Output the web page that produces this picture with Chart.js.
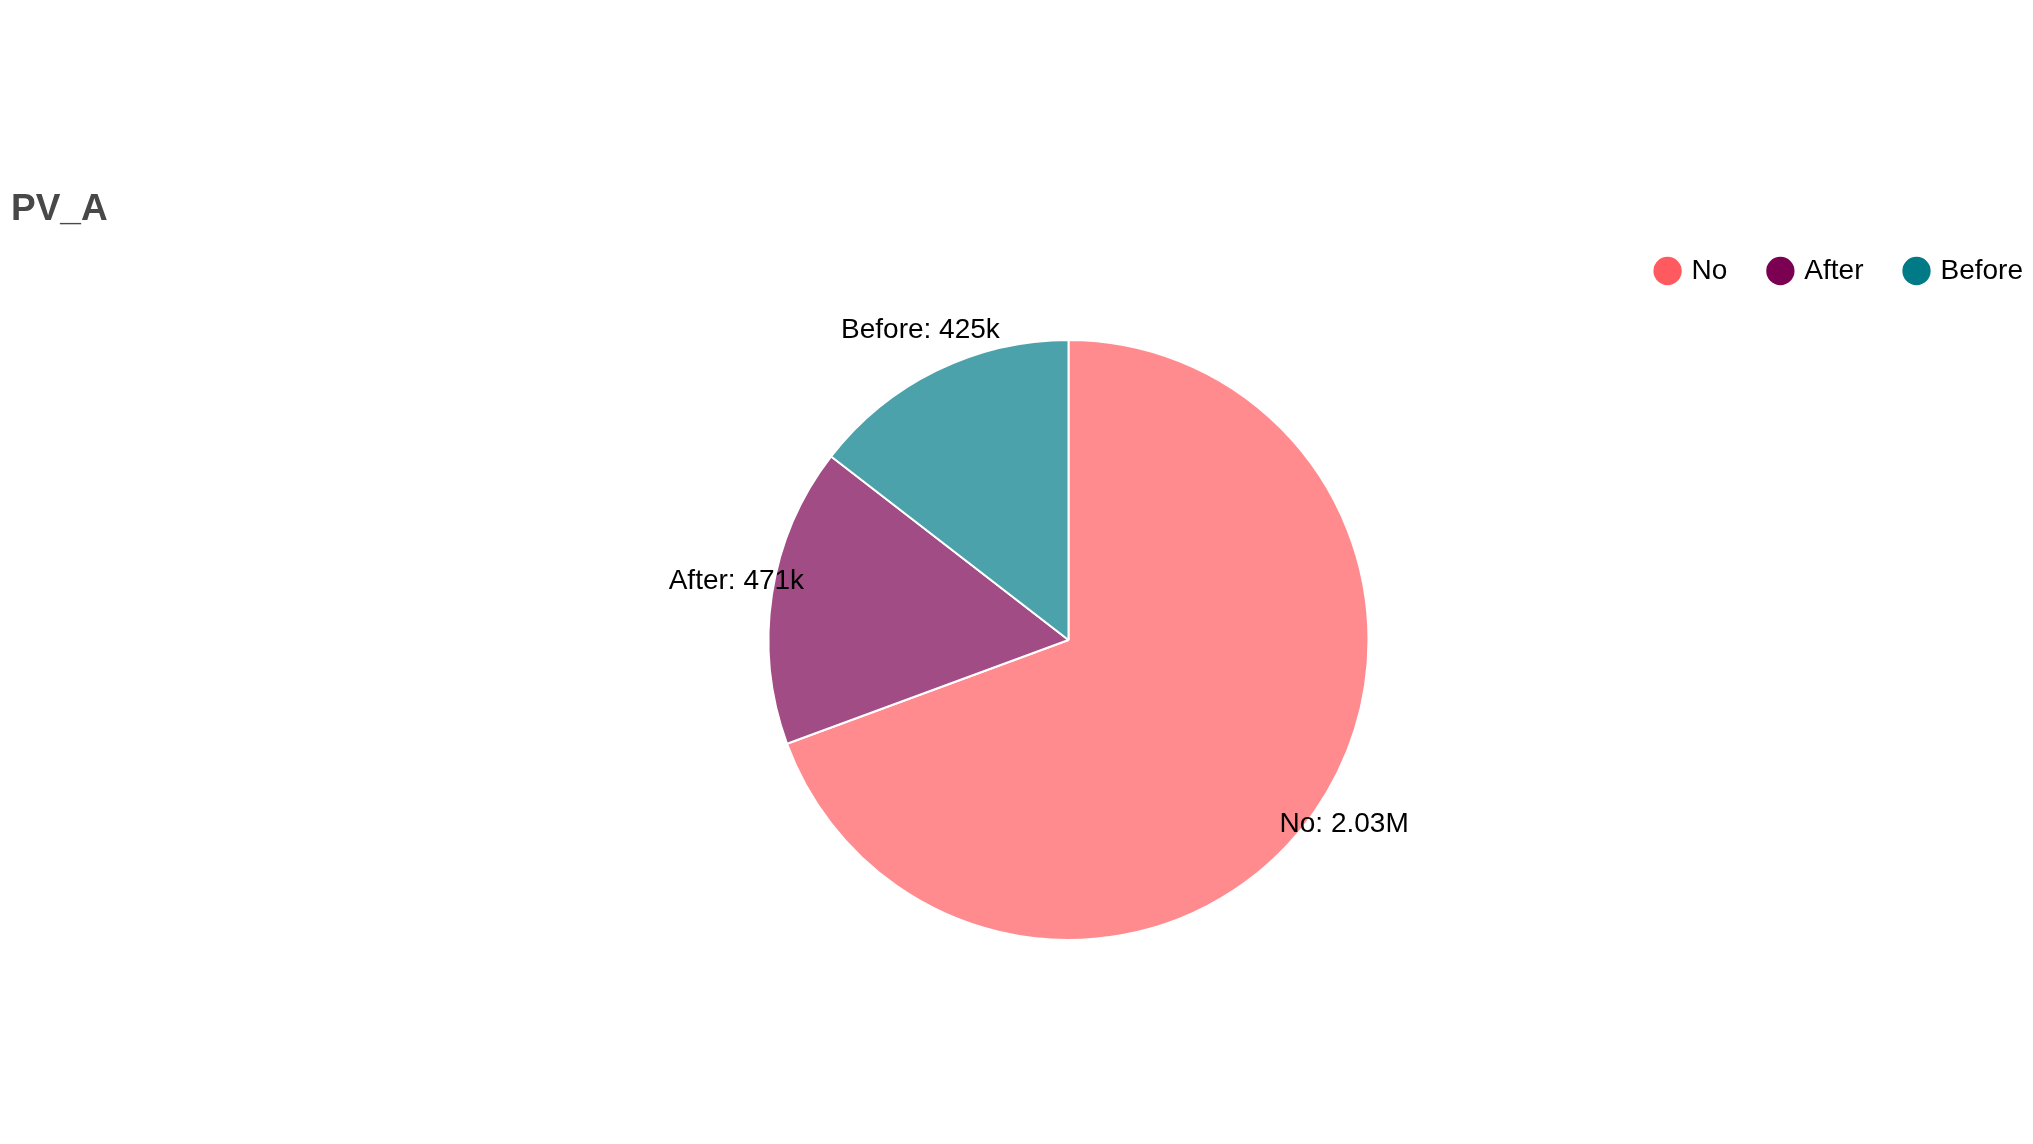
<!DOCTYPE html>
<html>
<head>
<meta charset="utf-8">
<script src="https://cdn.jsdelivr.net/npm/chart.js@4.4.1/dist/chart.umd.min.js"></script>
<style>
  html, body { margin: 0; padding: 0; background: #fff; overflow: hidden; }
  #wrap { width: 2033px; height: 1144px; position: relative; }
</style>
</head>
<body>
<div id="wrap"><canvas id="pv"></canvas></div>
<script>
// data
const chartTitle = 'PV_A';
const categories = ['No', 'After', 'Before'];
const pvValues = [2030000, 471000, 425000];
const solidColors = ['#ff5a5f', '#7b0051', '#007a87'];
const sliceColors = ['rgba(255,90,95,0.7)', 'rgba(123,0,81,0.7)', 'rgba(0,122,135,0.7)'];

Chart.defaults.font.family = '"Liberation Sans", Arial, sans-serif';
Chart.defaults.color = '#000';

// 3 significant digits with k / M suffix, like "2.03M"
function fmt(v){
  let suffix = '', n = v;
  if (v >= 1e6) { n = v / 1e6; suffix = 'M'; }
  else if (v >= 1e3) { n = v / 1e3; suffix = 'k'; }
  return parseFloat(n.toPrecision(3)) + suffix;
}

// title drawn in the top-left corner
const titlePlugin = {
  id: 'leftTitle',
  afterDraw(chart){
    const ctx = chart.ctx;
    ctx.save();
    ctx.font = 'bold 37px "Liberation Sans", Arial, sans-serif';
    ctx.fillStyle = '#484848';
    ctx.textAlign = 'left';
    ctx.textBaseline = 'alphabetic';
    ctx.fillText(chartTitle, 11, 220);
    ctx.restore();
  }
};

// "Name: value" labels just outside each slice
const sliceLabels = {
  id: 'sliceLabels',
  afterDatasetsDraw(chart){
    const ctx = chart.ctx;
    const meta = chart.getDatasetMeta(0);
    ctx.save();
    ctx.font = '28px "Liberation Sans", Arial, sans-serif';
    ctx.fillStyle = '#000';
    ctx.textAlign = 'center';
    ctx.textBaseline = 'alphabetic';
    meta.data.forEach((arc, i) => {
      const p = arc.getProps(['x', 'y', 'startAngle', 'endAngle', 'outerRadius'], true);
      const mid = (p.startAngle + p.endAngle) / 2;
      const r = p.outerRadius * 1.12;
      ctx.fillText(chart.data.labels[i] + ': ' + fmt(chart.data.datasets[0].data[i]),
        p.x + Math.cos(mid) * r, p.y + Math.sin(mid) * r);
    });
    ctx.restore();
  }
};

let ctx = document.getElementById('pv');

var pie = new Chart(ctx, {
  type: 'pie',
  data: {
    labels: categories,
    datasets: [{
      label: chartTitle,
      data: pvValues,
      backgroundColor: sliceColors,
      borderColor: '#fff',
      borderWidth: 2,
      radius: 300
    }]
  },
  options: {
    animation: false,
    responsive: true,
    maintainAspectRatio: false,
    layout: {
      padding: { left: 104, right: -33, top: 214, bottom: 159 }
    },
    plugins: {
      title: { display: false },
      tooltip: { enabled: false },
      legend: {
        display: true,
        position: 'top',
        align: 'end',
        labels: {
          usePointStyle: true,
          pointStyle: 'circle',
          boxWidth: 20,
          boxHeight: 20,
          padding: 43,
          color: '#000',
          font: { size: 28 },
          generateLabels(chart){
            const items = Chart.overrides.pie.plugins.legend.labels.generateLabels(chart);
            items.forEach((it, i) => {
              it.fillStyle = solidColors[i];
              it.strokeStyle = solidColors[i];
              it.lineWidth = 0;
            });
            return items;
          }
        }
      }
    }
  },
  plugins: [titlePlugin, sliceLabels]
});
</script>
</body>
</html>
